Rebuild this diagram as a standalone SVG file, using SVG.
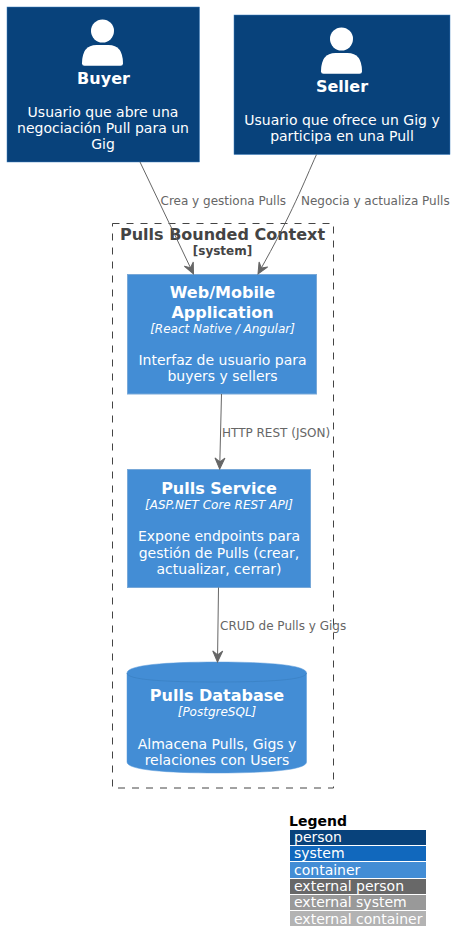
<svg xmlns="http://www.w3.org/2000/svg" width="456" height="952" viewBox="0 0 456 952">
<style>
text{font-family:"DejaVu Sans",sans-serif;text-anchor:middle;fill:#fff}
.n{font-size:16px;font-weight:bold}
.d{font-size:14px}
.t{font-size:12px;font-style:italic}
.l{font-size:12px;fill:#666;text-anchor:start}
.lg{font-size:14px;text-anchor:start}
.per{fill:#08427B;stroke:#3C7FC0;stroke-width:.5}
.con{fill:#438DD5;stroke:#78A8D8;stroke-width:1}
.c{fill:none;stroke:#666;stroke-width:1}
.h{fill:#666;stroke:#666;stroke-width:1}
</style>
<defs>
<path id="ah" d="M-5 -11 L0 0 L5 -11 L0 -7 Z"/>
<g id="person"><circle cx="0" cy="0" r="11.500" fill="#fff"/><path d="M-20.500 32.500 Q-20.500 14 -6 14 L6 14 Q20.500 14 20.500 32.500 Q20.500 34.700 18 34.700 L-18 34.700 Q-20.500 34.700 -20.500 32.500 Z" fill="#fff"/></g>
</defs>
<g id="boundary">
<rect x="112.500" y="223.500" width="221" height="564.500" fill="none" stroke="#444" stroke-width="1" stroke-dasharray="7 7"/>
<text x="222.500" y="240" style="font-size:16px;font-weight:bold;fill:#444">Pulls Bounded Context</text>
<text x="222.500" y="255" style="font-size:12px;font-weight:bold;fill:#444">[system]</text>
</g>
<g id="buyer">
<rect class="per" x="7" y="7" width="192.500" height="155"/>
<use href="#person" x="102.500" y="31"/>
<text class="n" x="103.500" y="84">Buyer</text>
<text class="d" x="103" y="117">Usuario que abre una</text>
<text class="d" x="103" y="133">negociación Pull para un</text>
<text class="d" x="103" y="149">Gig</text>
</g>
<g id="seller">
<rect class="per" x="234" y="15" width="216" height="139.500"/>
<use href="#person" x="341.500" y="39"/>
<text class="n" x="342" y="92">Seller</text>
<text class="d" x="342" y="125">Usuario que ofrece un Gig y</text>
<text class="d" x="342" y="141">participa en una Pull</text>
</g>
<g id="web">
<rect class="con" x="127.500" y="274.500" width="189" height="119.500"/>
<text class="n" x="222.500" y="298">Web/Mobile</text>
<text class="n" x="222.500" y="317.500">Application</text>
<text class="t" x="222.500" y="333">[React Native / Angular]</text>
<text class="d" x="222.500" y="365">Interfaz de usuario para</text>
<text class="d" x="222.500" y="381">buyers y sellers</text>
</g>
<g id="service">
<rect class="con" x="127.500" y="469.500" width="183" height="118"/>
<text class="n" x="219" y="494">Pulls Service</text>
<text class="t" x="219" y="509">[ASP.NET Core REST API]</text>
<text class="d" x="219" y="541">Expone endpoints para</text>
<text class="d" x="219" y="557.500">gestión de Pulls (crear,</text>
<text class="d" x="219" y="574">actualizar, cerrar)</text>
</g>
<g id="database">
<path d="M127 673 C127 665 166 662 217 662 C268 662 306.500 665 306.500 673 L306.500 762 C306.500 770 268 773 217 773 C166 773 127 770 127 762 Z" fill="#438DD5" stroke="#5A9ADA" stroke-width=".5"/>
<path d="M127 673 C127 680 166 682 217 682 C268 682 306.500 680 306.500 673" fill="none" stroke="#3A7FC2" stroke-width=".7"/>
<text class="n" x="217" y="701">Pulls Database</text>
<text class="t" x="217" y="716">[PostgreSQL]</text>
<text class="d" x="217" y="748.500">Almacena Pulls, Gigs y</text>
<text class="d" x="217" y="765">relaciones con Users</text>
</g>
<g id="connectors">
<path class="c" d="M140 162 L193 273"/>
<use class="h" href="#ah" transform="translate(193.500,274) rotate(-25.500)"/>
<path class="c" d="M316.500 154.500 C304 182 293 212 258.500 273"/>
<use class="h" href="#ah" transform="translate(258,274) rotate(29.500)"/>
<path class="c" d="M221.500 394 L219.700 468"/>
<use class="h" href="#ah" transform="translate(219.700,469) rotate(1.400)"/>
<path class="c" d="M218.500 587.500 L217.500 661"/>
<use class="h" href="#ah" transform="translate(217.500,662) rotate(1)"/>
<text class="l" x="160.500" y="205">Crea y gestiona Pulls</text>
<text class="l" x="301" y="205">Negocia y actualiza Pulls</text>
<text class="l" x="222" y="437">HTTP REST (JSON)</text>
<text class="l" x="220" y="630">CRUD de Pulls y Gigs</text>
</g>
<g id="legend">
<text x="289" y="826" style="font-size:14px;font-weight:bold;fill:#000;text-anchor:start">Legend</text>
<rect x="290" y="830" width="136" height="15" fill="#08427B"/>
<text class="lg" x="294" y="842">person</text>
<rect x="290" y="846" width="136" height="15" fill="#1168BD"/>
<text class="lg" x="294" y="858">system</text>
<rect x="290" y="862" width="136" height="16" fill="#438DD5"/>
<text class="lg" x="294" y="874.500">container</text>
<rect x="290" y="879" width="136" height="15" fill="#686868"/>
<text class="lg" x="294" y="890.500">external person</text>
<rect x="290" y="895" width="136" height="15" fill="#999"/>
<text class="lg" x="294" y="907">external system</text>
<rect x="290" y="911" width="136" height="15" fill="#B3B3B3"/>
<text class="lg" x="294" y="923.500">external container</text>
</g>
</svg>
